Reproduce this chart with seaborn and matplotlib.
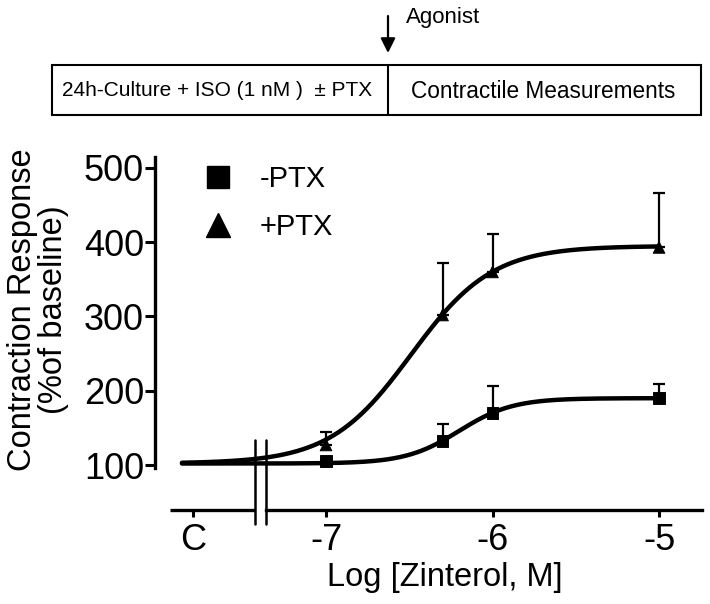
import numpy as np
import pandas as pd
import matplotlib
matplotlib.use("Agg")
import matplotlib.pyplot as plt
from matplotlib.lines import Line2D
from matplotlib.patches import Rectangle
import seaborn as sns

# ==========================
# Dados
# ==========================
log_conc = [-7.0, -6.3, -6.0, -5.0]
minus_ptx = [105, 132, 170, 190]
minus_ptx_sem = [3, 23, 36, 19]
plus_ptx = [127, 302, 360, 393]
plus_ptx_sem = [17, 70, 51, 73]

# parametros do ajuste sigmoide (bottom, top, logEC50, hill)
fit_minus = (102, 190, -6.20, 2.7)
fit_plus = (102, 395, -6.49, 1.78)

x_ticks = [-7.8, -7, -6, -5]
x_ticklabels = ["C", "-7", "-6", "-5"]
y_ticks = [100, 200, 300, 400, 500]

sns.set_style("ticks", {"axes.edgecolor": "black", "text.color": "black",
                        "xtick.color": "black", "ytick.color": "black",
                        "axes.labelcolor": "black"})
plt.rcParams["font.family"] = ["Liberation Sans", "DejaVu Sans"]

fig = plt.figure(figsize=(7.1, 6.04), dpi=100)
W, H = 710, 604
ax = fig.add_axes([155 / W, 1 - 510 / H, (702 - 155) / W, (510 - 157) / H])

# curvas ajustadas
xs = np.linspace(-7.865, -5.0, 300)
def hill(x, p):
    b, t, c, h = p
    return b + (t - b) / (1 + 10 ** ((c - x) * h))

curves = pd.concat([
    pd.DataFrame({"x": xs, "y": hill(xs, fit_minus), "grupo": "-PTX"}),
    pd.DataFrame({"x": xs, "y": hill(xs, fit_plus), "grupo": "+PTX"}),
])
sns.lineplot(data=curves, x="x", y="y", units="grupo", estimator=None,
             color="black", lw=3.2, ax=ax, legend=False)

# barras de erro (so para cima)
ax.errorbar(log_conc, minus_ptx, yerr=[np.zeros(4), minus_ptx_sem], fmt="none",
            ecolor="black", elinewidth=1.6, capsize=4, capthick=1.6)
ax.errorbar(log_conc, plus_ptx, yerr=[np.zeros(4), plus_ptx_sem], fmt="none",
            ecolor="black", elinewidth=1.6, capsize=4, capthick=1.6)

pts = pd.DataFrame({
    "x": log_conc * 2,
    "y": minus_ptx + plus_ptx,
    "grupo": ["-PTX"] * 4 + ["+PTX"] * 4,
})
sns.scatterplot(data=pts, x="x", y="y", style="grupo", markers={"-PTX": "s", "+PTX": "^"},
                color="black", s=70, edgecolor="black", ax=ax, legend=False, zorder=5)

# eixos
ax.set_xlim(-8.027, -4.742)
ax.set_ylim(39.4, 514.8)
ax.set_xticks(x_ticks)
ax.set_xticklabels(x_ticklabels)
ax.set_yticks(y_ticks)
ax.set_xlabel("Log [Zinterol, M]", fontsize=23.5, labelpad=3)
ax.xaxis.label.set_x((445 - 155) / (702 - 155))
ax.set_ylabel("")
ax.tick_params(axis="both", labelsize=26, width=2.2, length=5, color="black")
ax.tick_params(axis="x", pad=4)
ax.tick_params(axis="y", length=7, pad=1)

for s in ["top", "right"]:
    ax.spines[s].set_visible(False)
ax.spines["left"].set_linewidth(2.4)
ax.spines["left"].set_bounds(96, 514.8)
ax.spines["bottom"].set_linewidth(2.4)
ax.spines["bottom"].set_bounds(-7.36, -4.742)

# segmento esquerdo do eixo x e a quebra
xt = ax.get_xaxis_transform()
ax.plot([-7.937, -7.426], [0, 0], color="black", lw=2.4, transform=xt, clip_on=False,
        solid_capstyle="butt")
for xb in [-7.426, -7.36]:
    ax.plot([xb, xb], [20.5, 133.7], color="black", lw=1.8, clip_on=False)

# legenda
handles = [
    Line2D([], [], marker="s", color="black", ls="none", markersize=16),
    Line2D([], [], marker="^", color="black", ls="none", markersize=17),
]
ax.legend(handles, ["-PTX", "+PTX"], loc="upper left",
          bbox_to_anchor=(203 / W, 1 - 165 / H), bbox_transform=fig.transFigure,
          frameon=False, fontsize=21, handlelength=1.0, handletextpad=0.95,
          labelspacing=0.68, borderpad=0, borderaxespad=0)

# rotulo do eixo y
fig.text(38 / W, 1 - 310 / H, "Contraction Response\n(%of baseline)", rotation=90,
         ha="center", va="center", multialignment="center", fontsize=23.5, linespacing=1.0)

# caixa superior
fig.add_artist(Rectangle((52 / W, 1 - 115 / H), (701 - 52) / W, 50 / H,
                         transform=fig.transFigure, fill=False, ec="black", lw=1.5))
fig.add_artist(Line2D([388 / W, 388 / W], [1 - 65 / H, 1 - 115 / H],
                      transform=fig.transFigure, color="black", lw=1.5))
fig.text(62 / W, 1 - 91 / H, "24h-Culture + ISO (1 nM )  \u00b1 PTX", fontsize=15,
         ha="left", va="center")
fig.text(543 / W, 1 - 91 / H, "Contractile Measurements", fontsize=16.3,
         ha="center", va="center")
fig.text(406 / W, 1 - 17 / H, "Agonist", fontsize=16, ha="left", va="center")
ax.annotate("", xy=(388 / W, 1 - 53 / H), xytext=(388 / W, 1 - 16 / H),
            xycoords="figure fraction", textcoords="figure fraction",
            arrowprops=dict(arrowstyle="-|>", color="black", lw=1.6, mutation_scale=22,
                            shrinkA=0, shrinkB=0))

plt.savefig("out.png", dpi=100)
plt.close()
